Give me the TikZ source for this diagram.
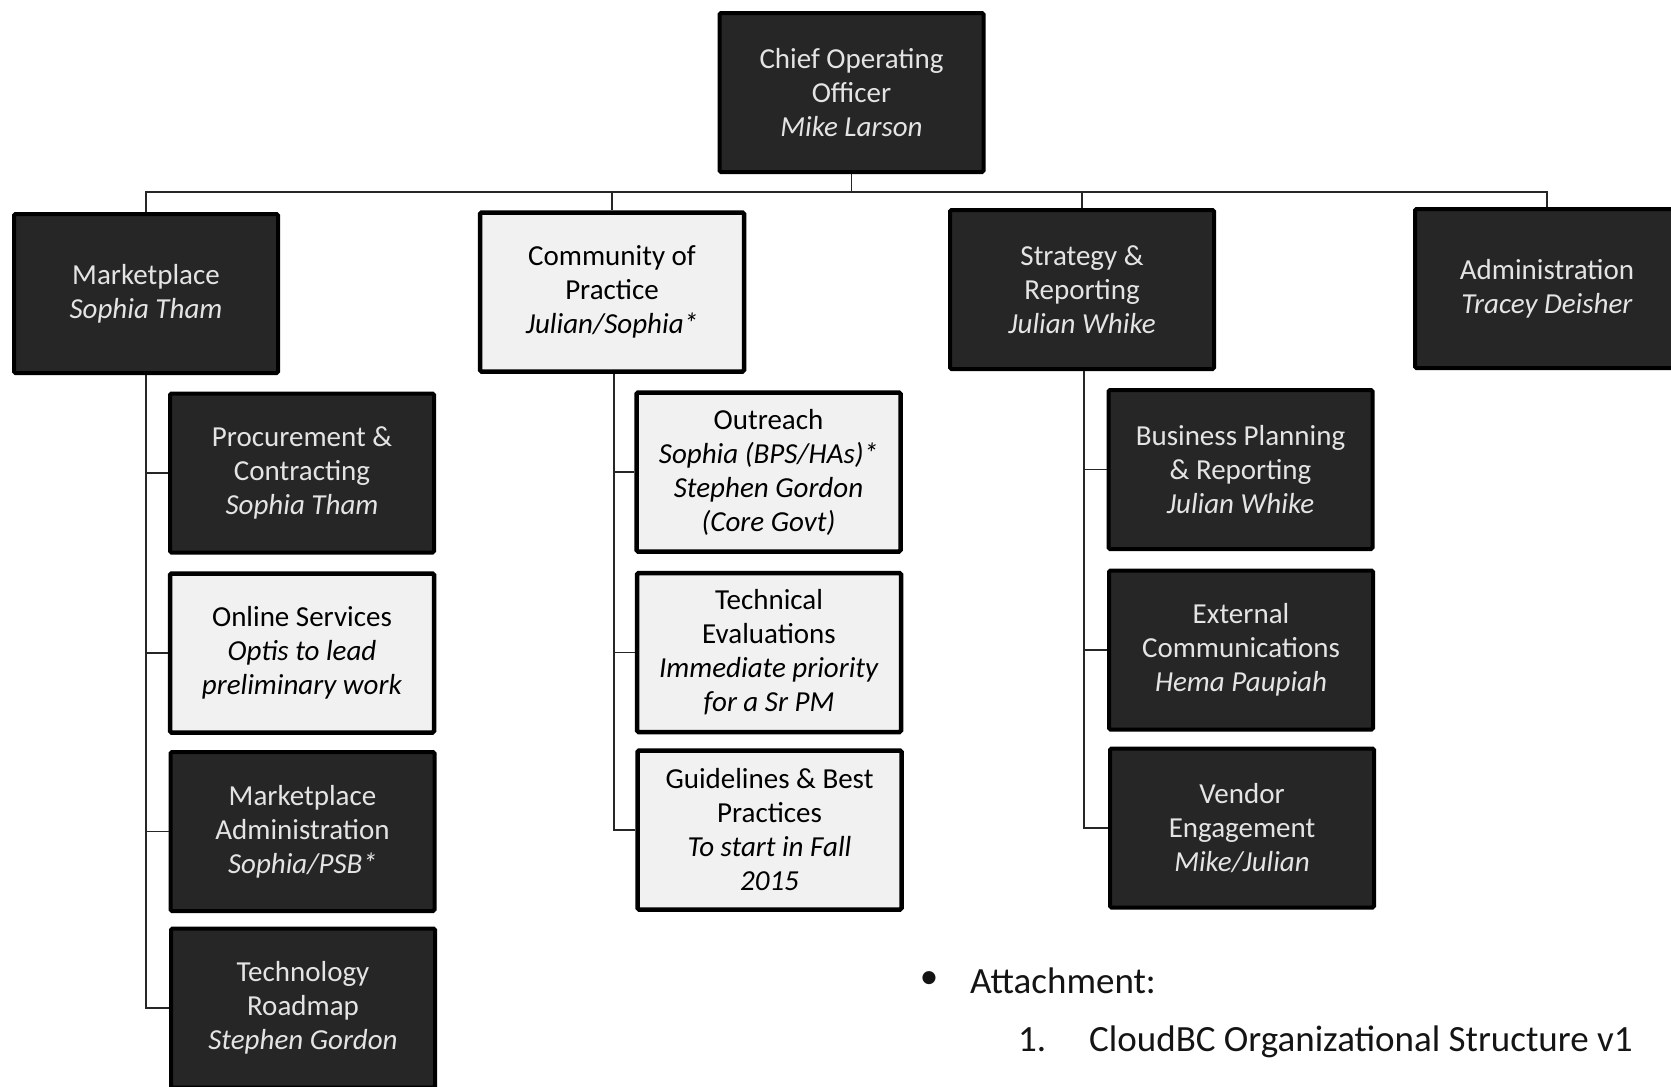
\documentclass[tikz,border=0pt]{standalone}
\usepackage{fontspec}
\setmainfont{Carlito}
\definecolor{boxdark}{HTML}{262626}
\definecolor{boxlight}{HTML}{F1F1F1}
\definecolor{boxtext}{HTML}{E4E4E4}
\begin{document}
\begin{tikzpicture}[x=1pt,y=-1pt,
  box/.style={draw=black, line width=4pt, minimum width=264pt, minimum height=159pt,
    align=center, inner sep=0pt, rounded corners=1.5pt,
    font=\fontsize{29}{34}\selectfont},
  darkbox/.style={box, fill=boxdark, text=boxtext},
  lightbox/.style={box, line width=4.5pt, fill=boxlight, text=black},
  link/.style={draw=black!85, line width=1.8pt},
  note/.style={inner sep=0pt, text=black!92, font=\fontsize{37}{44}\selectfont}]

\useasboundingbox (0,0) rectangle (1671,1087);
\clip (0,0) rectangle (1671,1087);

% top level
\node[darkbox] (coo) at (851.5,92.5) {Chief Operating\\Officer\\\textit{Mike Larson}};

\node[darkbox] (mkt) at (146,293.5) {Marketplace\\\textit{Sophia Tham}};
\node[lightbox] (cop) at (612,292) {Community of\\Practice\\\textit{Julian/Sophia*}};
\node[darkbox] (str) at (1082,289.5) {Strategy \&\\Reporting\\\textit{Julian Whike}};
\node[darkbox] (adm) at (1547,288.5) {Administration\\\textit{Tracey Deisher}};

% marketplace branch
\node[darkbox] (proc) at (302,473) {Procurement \&\\Contracting\\\textit{Sophia Tham}};
\node[lightbox] (online) at (302,653) {Online Services\\\textit{Optis to lead}\\\textit{preliminary work}};
\node[darkbox] (madm) at (302.5,831.5) {Marketplace\\Administration\\\textit{Sophia/PSB*}};
\node[darkbox] (tech) at (303,1008) {Technology\\Roadmap\\\textit{Stephen Gordon}};

% community of practice branch
\node[lightbox] (outr) at (768.5,472) {Outreach\\\textit{Sophia (BPS/HAs)*}\\\textit{Stephen Gordon}\\\textit{(Core Govt)}};
\node[lightbox] (teval) at (769,652.5) {Technical\\Evaluations\\\textit{Immediate priority}\\\textit{for a Sr PM}};
\node[lightbox] (guide) at (769.5,830) {Guidelines \& Best\\Practices\\\textit{To start in Fall}\\\textit{2015}};

% strategy branch
\node[darkbox] (bp) at (1240.5,469.5) {Business Planning\\\& Reporting\\\textit{Julian Whike}};
\node[darkbox] (ext) at (1241,650) {External\\Communications\\\textit{Hema Paupiah}};
\node[darkbox] (vend) at (1242,828) {Vendor\\Engagement\\\textit{Mike/Julian}};

% connectors
\coordinate (bus) at (851.5,192);
\draw[link] (coo.south) -- (bus);
\draw[link] (mkt.north) |- (bus);
\draw[link] (cop.north) |- (bus);
\draw[link] (str.north) |- (bus);
\draw[link] (adm.north) |- (bus);

\foreach \c in {proc,online,madm,tech}
  \draw[link] (mkt.south) |- (\c.west);
\foreach \c in {outr,teval,guide}
  \draw[link] ([xshift=2pt]cop.south) |- (\c.west);
\foreach \c in {bp,ext,vend}
  \draw[link] ([xshift=2pt]str.south) |- (\c.west);

% attachment note
\node[note] (bul) at (929,980) {•};
\node[note, anchor=base west] (att) at (970,993) {Attachment:};
\node[note, anchor=base west] (num) at (1018,1051) {1.};
\node[note, anchor=base west] (doc) at (1089,1051) {CloudBC Organizational Structure v1};
\end{tikzpicture}
\end{document}
